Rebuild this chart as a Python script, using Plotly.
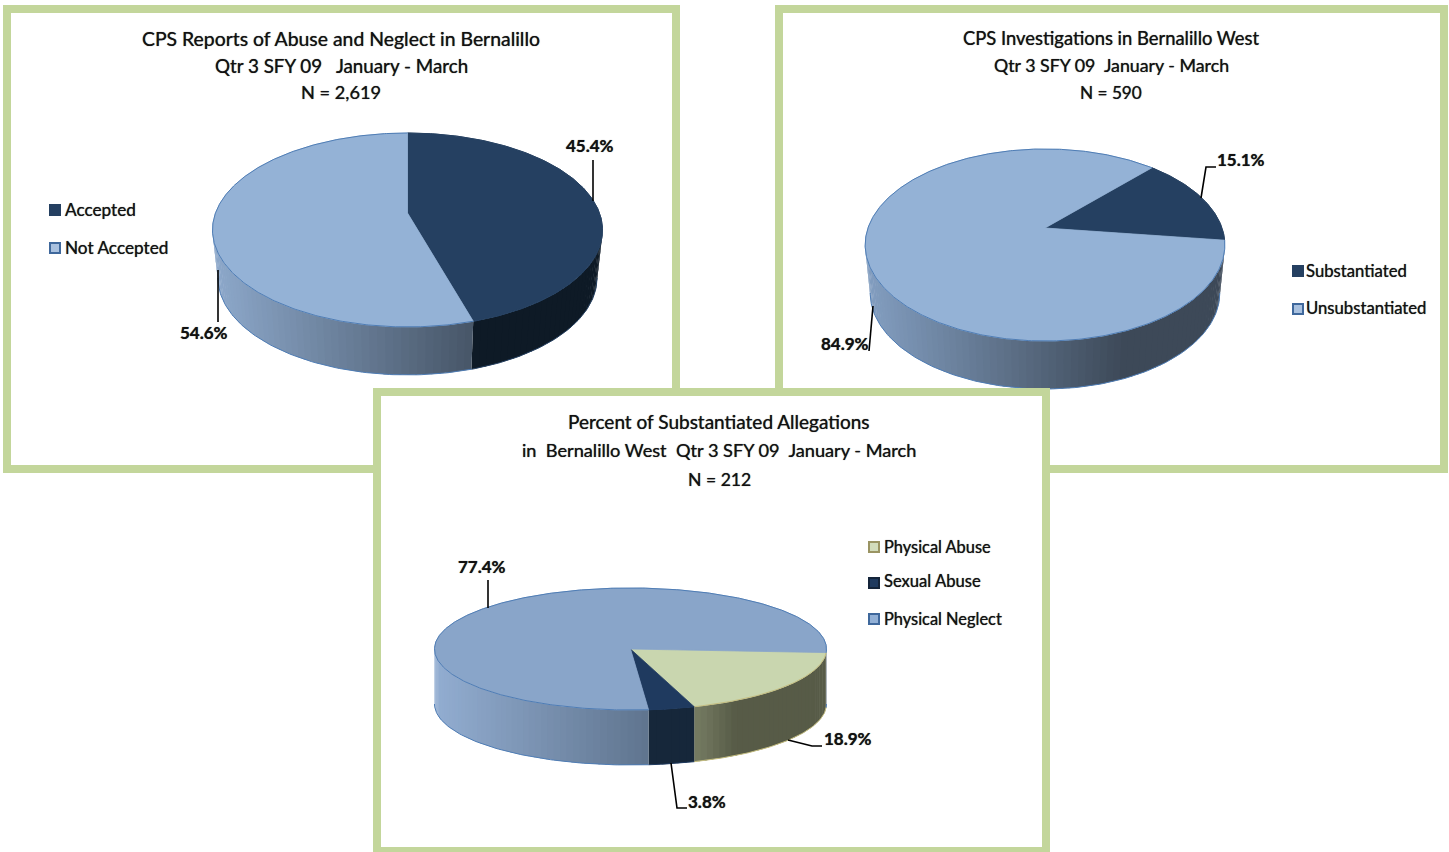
import numpy as np
import plotly.graph_objects as go

# ---------- data ----------
pie1_labels = ["Accepted", "Not Accepted"]
pie1_values = [45.4, 54.6]
pie2_labels = ["Substantiated", "Unsubstantiated"]
pie2_values = [15.1, 84.9]
pie3_labels = ["Physical Abuse", "Sexual Abuse", "Physical Neglect"]
pie3_values = [18.9, 3.8, 77.4]

pie1_title = ["CPS Reports of Abuse and Neglect in Bernalillo", "Qtr 3 SFY 09   January - March", "N = 2,619"]
pie2_title = ["CPS Investigations in Bernalillo West", "Qtr 3 SFY 09  January - March", "N = 590"]
pie3_title = ["Percent of Substantiated Allegations", "in  Bernalillo West  Qtr 3 SFY 09  January - March", "N = 212"]

# ---------- styling / layout ----------
GREEN = "#C3D69B"
FONT = "Lato"
TXT = "#111111"
W, H = 1449, 852
EDGE = "#4F7DB5"

# top colour, wall gradient (left, right), gradient x-range, edge colour
S_NAVY = dict(top="#254061", wall=("#0E1A26", "#0E1A26"), xr=(0, 1), edge="#254061")
S_LIGHT1 = dict(top="#94B2D6", wall=("#8CA7C9", "#475668"), xr=(218, 472), edge=EDGE)
S_LIGHT2 = dict(top="#94B2D6", wall=("#829DBF", "#3D4958"), xr=(870, 1125), edge=EDGE)
S_NEG = dict(top="#89A5C9", wall=("#93AED2", "#5F748E"), xr=(434, 650), edge=EDGE)
S_SEX = dict(top="#1F3A5F", wall=("#16273A", "#16273A"), xr=(0, 1), edge="#1F3A5F")
S_ABU = dict(top="#C9D6AF", wall=("#767C63", "#575B47"), xr=(695, 735), edge="#C4BD7F")

pies = [
    dict(values=pie1_values, start=0, cx=407.5, cy=213, a=192, b=94, k=0.175, depth=48, s=0.972, styles=[S_NAVY, S_LIGHT1]),
    dict(values=pie2_values, start=43, cx=1045, cy=228, a=177, b=93, k=0.177, depth=48, s=0.972, styles=[S_NAVY, S_LIGHT2]),
    dict(values=pie3_values, start=93, cx=630.5, cy=649, a=196, b=61, k=0.0, depth=55, s=1.0, styles=[S_ABU, S_SEX, S_NEG]),
]


def hex2rgb(c):
    return np.array([int(c[i:i + 2], 16) for i in (1, 3, 5)], float)


def mix(c0, c1, t):
    t = min(1, max(0, t))
    r = hex2rgb(c0) * (1 - t) + hex2rgb(c1) * t
    return "rgb(%d,%d,%d)" % tuple(r)


def proj(p, deg):
    th = np.radians(deg)
    u, v = np.sin(th), -np.cos(th)
    d = 1 - p["k"] * v
    return p["cx"] + p["a"] * u / d, p["cy"] + p["b"] * v / d


def poly(xs, ys, fill, line=None, lw=1):
    return go.Scatter(x=list(xs), y=list(ys), mode="lines", fill="toself", fillcolor=fill,
                      line=dict(color=line or fill, width=lw), hoverinfo="skip", showlegend=False)


def frame(x0, y0, x1, y1, t=8):
    out = poly([x0, x1, x1, x0, x0], [y0, y0, y1, y1, y0], GREEN, GREEN, 0)
    inner = poly([x0 + t, x1 - t, x1 - t, x0 + t, x0 + t], [y0 + t, y0 + t, y1 - t, y1 - t, y0 + t], "#FFFFFF", "#FFFFFF", 0)
    return [out, inner]


def draw_pie(p):
    traces = []
    angs = p["start"] + np.concatenate([[0], np.cumsum(p["values"])]) * 3.6
    lo = 90 + np.degrees(np.arcsin(p["k"]))
    hi = 270 - np.degrees(np.arcsin(p["k"]))
    bx = lambda x: p["cx"] + p["s"] * (x - p["cx"])
    # walls: only the front of the disc shows; strips overlap so no seams appear
    for i, st in enumerate(p["styles"]):
        for shift in (0, -360, 360):
            a0 = max(angs[i] + shift, lo)
            a1 = min(angs[i + 1] + shift, hi)
            if a1 <= a0:
                continue
            n = max(1, int((a1 - a0) / 2.0))
            e = np.linspace(a0, a1, n + 1)
            for j in range(n):
                ext = e[j + 1] + (0.6 if j < n - 1 else 0)
                tx, ty = proj(p, e[j])
                ux, uy = proj(p, ext)
                xm = (tx + ux) / 2
                t = (xm - st["xr"][0]) / (st["xr"][1] - st["xr"][0])
                col = mix(st["wall"][0], st["wall"][1], t)
                traces.append(go.Scatter(x=[tx, ux, bx(ux), bx(tx), tx],
                                         y=[ty, uy, uy + p["depth"], ty + p["depth"], ty],
                                         mode="none", fill="toself", fillcolor=col,
                                         hoverinfo="skip", showlegend=False))
            arc = np.linspace(a0, a1, n * 2 + 1)
            pts = [proj(p, q) for q in arc]
            traces.append(go.Scatter(x=[bx(q[0]) for q in pts],
                                     y=[q[1] + p["depth"] for q in pts], mode="lines",
                                     line=dict(color=st["edge"], width=1), hoverinfo="skip", showlegend=False))
    # top surface
    for i, st in enumerate(p["styles"]):
        arc = np.linspace(angs[i], angs[i + 1], max(3, int((angs[i + 1] - angs[i]) * 1.5)))
        pts = [proj(p, q) for q in arc]
        xs = [p["cx"]] + [q[0] for q in pts] + [p["cx"]]
        ys = [p["cy"]] + [q[1] for q in pts] + [p["cy"]]
        traces.append(poly(xs, ys, st["top"], st["top"], 0.8))
        traces.append(go.Scatter(x=[q[0] for q in pts], y=[q[1] for q in pts], mode="lines",
                                 line=dict(color=st["edge"], width=1), hoverinfo="skip", showlegend=False))
    return traces


fig = go.Figure()
for tr in frame(3, 5, 680, 473) + frame(775, 5, 1448, 473):
    fig.add_trace(tr)
for tr in draw_pie(pies[0]) + draw_pie(pies[1]):
    fig.add_trace(tr)
for tr in frame(373, 388, 1050, 855):
    fig.add_trace(tr)
for tr in draw_pie(pies[2]):
    fig.add_trace(tr)

# leader lines
leaders = [
    ([593, 593], [160, 201]),
    ([218, 218], [270, 322]),
    ([1201, 1206, 1216], [198, 167, 167]),
    ([873, 869], [306, 351]),
    ([488, 488], [580, 608]),
    ([788, 812, 822], [740, 746, 746]),
    ([671, 677, 687], [763, 808, 808]),
]
for xs, ys in leaders:
    fig.add_trace(go.Scatter(x=xs, y=ys, mode="lines", line=dict(color="#000000", width=1.6),
                             hoverinfo="skip", showlegend=False))

# legend swatches
swatches = [
    (55, 210, "#254061", "#254061"), (55, 248, "#A9C1DF", "#3F689C"),
    (1298, 271, "#254061", "#254061"), (1298, 309, "#A9C1DF", "#3F689C"),
    (874, 547, "#D2DCBC", "#9A9463"), (874, 583, "#1F3A5F", "#14243A"), (874, 619, "#92B0D6", "#3F689C"),
]
for x, y, f, l in swatches:
    fig.add_trace(go.Scatter(x=[x], y=[y], mode="markers",
                             marker=dict(symbol="square", size=10, color=f, line=dict(color=l, width=2)),
                             hoverinfo="skip", showlegend=False))

SHADOW = "0 0 0.8px rgba(0,0,0,0.75)"


def label(x, y, text, size, anchor="center", weight=400):
    fig.add_annotation(x=x, y=y, text=text, showarrow=False, xanchor=anchor, yanchor="middle",
                       font=dict(family=FONT, size=size, color=TXT, weight=weight, shadow=SHADOW))


for t, y, sz in zip(pie1_title, (38, 65, 92), (19.4, 18.8, 18.2)):
    label(341, y, t, sz)
for t, y, sz in zip(pie2_title, (38, 65, 92), (18.4, 17.8, 17.2)):
    label(1111, y, t, sz)
for t, y, sz in zip(pie3_title, (421, 450, 479), (19.0, 18.2, 17.6)):
    label(719, y, t, sz)

for name, x, y, sz in [(pie1_labels[0], 63, 209, 17.2), (pie1_labels[1], 63, 247, 17.2),
                       (pie2_labels[0], 1304, 271, 16.7), (pie2_labels[1], 1304, 308, 16.7),
                       (pie3_labels[0], 882, 546, 16.4), (pie3_labels[1], 882, 581, 16.6), (pie3_labels[2], 882, 618, 16.4)]:
    label(x, y, name, sz, "left")

for v, x, y in [(pie1_values[0], 590, 145), (pie1_values[1], 204, 332),
                (pie2_values[0], 1241, 159), (pie2_values[1], 845, 343),
                (pie3_values[2], 482, 566), (pie3_values[0], 848, 738), (pie3_values[1], 707, 801)]:
    label(x, y, f"{v:.1f}%", 17, weight=700)

fig.update_layout(
    width=W, height=H, margin=dict(l=0, r=0, t=0, b=0),
    paper_bgcolor="#FFFFFF", plot_bgcolor="#FFFFFF", showlegend=False,
    xaxis=dict(range=[0, W], visible=False, fixedrange=True),
    yaxis=dict(range=[H, 0], visible=False, fixedrange=True),
)
post = ("document.body.style.margin='0';document.body.style.overflow='hidden';"
        "var s=document.createElement('style');"
        "s.textContent='text{font-variant-ligatures:none;}';document.head.appendChild(s);")
fig.write_html("out.html", config=dict(displayModeBar=False), post_script=post)
